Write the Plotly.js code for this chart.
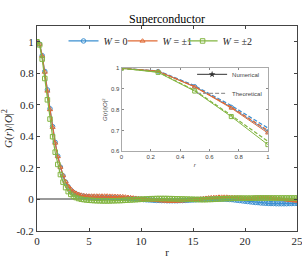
<!DOCTYPE html>
<html>
<head>
<meta charset="utf-8">
<script src="https://cdn.plot.ly/plotly-3.0.1.min.js"></script>
<style>html,body{margin:0;padding:0;background:#fff;}#chart{width:302px;height:267px;}</style>
</head>
<body>
<div id="chart"></div>
<script>
// r positions (step 0.25)
var r = [0,0.25,0.5,0.75,1,1.25,1.5,1.75,2,2.25,2.5,2.75,3,3.25,3.5,3.75,4,4.25,4.5,4.75,5,
5.25,5.5,5.75,6,6.25,6.5,6.75,7,7.25,7.5,7.75,8,
8.25,8.5,8.75,9,9.25,9.5,9.75,10,
10.25,10.5,10.75,11,11.25,11.5,11.75,12,12.25,12.5,12.75,13,13.25,13.5,13.75,14,14.25,14.5,14.75,15,
15.25,15.5,15.75,16,16.25,16.5,16.75,17,17.25,17.5,17.75,18,18.25,18.5,18.75,19,19.25,19.5,19.75,20,
20.25,20.5,20.75,21,21.25,21.5,21.75,22,22.25,22.5,22.75,23,23.25,23.5,23.75,24,24.25,24.5,24.75,25];

var gW0 = [1.000,0.985,0.912,0.812,0.695,0.575,0.462,0.362,0.275,0.205,0.150,0.110,0.080,0.060,0.045,0.035,0.028,0.023,0.020,0.018,0.016,
0.015,0.015,0.014,0.014,0.013,0.013,0.012,0.012,0.011,0.010,0.010,0.009,
0.008,0.007,0.006,0.005,0.004,0.003,0.002,0.001,
-0.001,-0.002,-0.003,-0.004,-0.005,-0.006,-0.006,-0.007,-0.007,-0.008,-0.008,-0.008,-0.008,-0.008,-0.007,-0.007,-0.006,-0.005,-0.004,-0.003,
-0.002,-0.001,0.000,0.001,0.002,0.002,0.003,0.003,0.003,0.003,0.002,0.002,0.001,0.000,-0.001,-0.003,-0.005,-0.007,-0.009,-0.011,
-0.013,-0.015,-0.017,-0.019,-0.020,-0.022,-0.023,-0.024,-0.025,-0.026,-0.026,-0.027,-0.027,-0.027,-0.027,-0.027,-0.026,-0.026,-0.025,-0.025];

var gW1 = [1.000,0.985,0.910,0.808,0.688,0.570,0.458,0.358,0.272,0.205,0.152,0.113,0.085,0.065,0.050,0.040,0.033,0.028,0.025,0.023,0.022,
0.022,0.022,0.022,0.022,0.022,0.022,0.022,0.021,0.021,0.020,0.020,0.019,
0.018,0.016,0.014,0.012,0.010,0.008,0.006,0.004,
0.002,0.000,-0.002,-0.004,-0.005,-0.006,-0.007,-0.008,-0.009,-0.010,-0.011,-0.011,-0.011,-0.010,-0.009,-0.008,-0.007,-0.005,-0.004,-0.002,
0.000,0.002,0.004,0.006,0.008,0.010,0.012,0.013,0.014,0.015,0.015,0.015,0.015,0.014,0.013,0.012,0.011,0.010,0.009,0.008,
0.008,0.008,0.009,0.010,0.011,0.012,0.012,0.012,0.011,0.010,0.008,0.006,0.004,0.002,0.000,-0.002,-0.004,-0.006,-0.008,-0.010];

var gW2 = [1.000,0.980,0.890,0.767,0.632,0.510,0.398,0.300,0.222,0.158,0.110,0.075,0.050,0.032,0.020,0.012,0.006,0.002,-0.001,-0.003,-0.005,
-0.006,-0.007,-0.008,-0.008,-0.009,-0.009,-0.009,-0.009,-0.008,-0.008,-0.007,-0.007,
-0.006,-0.005,-0.004,-0.003,-0.002,-0.001,0.000,0.001,
0.002,0.003,0.004,0.005,0.005,0.006,0.006,0.006,0.006,0.006,0.005,0.005,0.004,0.004,0.003,0.003,0.002,0.002,0.001,0.001,
0.000,0.000,-0.001,-0.001,-0.001,0.000,0.000,0.001,0.002,0.003,0.004,0.005,0.006,0.006,0.007,0.007,0.008,0.008,0.008,0.008,
0.008,0.008,0.008,0.009,0.009,0.009,0.009,0.009,0.009,0.009,0.009,0.009,0.009,0.009,0.009,0.009,0.009,0.009,0.009,0.009];

// inset (0 <= r <= 1)
var rIn = [0,0.25,0.5,0.75,1];
var numW0 = [1.000,0.985,0.912,0.812,0.695];
var numW1 = [1.000,0.985,0.910,0.808,0.688];
var numW2 = [1.000,0.980,0.890,0.767,0.632];
var theoW0 = [1.000,0.987,0.916,0.820,0.712];
var theoW1 = [1.000,0.986,0.912,0.813,0.700];
var theoW2 = [1.000,0.982,0.893,0.773,0.648];

var seriesNames = ['<i>W</i> = 0','<i>W</i> = \u00b11','<i>W</i> = \u00b12'];
var colors = ['#3b8fd0','#e06a35','#82b540'];
var symbols = ['circle-open','triangle-up-open','square-open'];
var legendIds = ['legend','legend3','legend4'];

var mainY = [gW0,gW1,gW2];
var numY = [numW0,numW1,numW2];
var theoY = [theoW0,theoW1,theoW2];

var traces = [];
for (var i=0;i<3;i++){
  traces.push({x:r,y:mainY[i],type:'scatter',mode:'lines+markers',name:seriesNames[i],
    line:{color:colors[i],width:1.2},marker:{symbol:symbols[i],size:4.5,color:colors[i],line:{width:1,color:colors[i]}},
    xaxis:'x',yaxis:'y',legend:legendIds[i]});
}
for (var i=0;i<3;i++){
  traces.push({x:rIn,y:numY[i],type:'scatter',mode:'lines+markers',showlegend:false,
    line:{color:colors[i],width:1},marker:{symbol:symbols[i],size:4,color:colors[i],line:{width:1,color:colors[i]}},
    xaxis:'x2',yaxis:'y2'});
  traces.push({x:rIn,y:theoY[i],type:'scatter',mode:'lines',showlegend:false,
    line:{color:colors[i],width:1.2,dash:'4px,2px'},xaxis:'x2',yaxis:'y2'});
}
traces.push({x:[null],y:[null],type:'scatter',mode:'lines+markers',name:'Numerical',
  line:{color:'#333',width:1},marker:{symbol:'star',size:5,color:'#333'},xaxis:'x2',yaxis:'y2',legend:'legend2'});
traces.push({x:[null],y:[null],type:'scatter',mode:'lines',name:'Theoretical',
  line:{color:'#999',width:1.2,dash:'4px,2px'},xaxis:'x2',yaxis:'y2',legend:'legend2'});

var serif = 'Liberation Serif, Times New Roman, serif';
var sans = 'Liberation Sans, Arial, sans-serif';

function mainLegend(x){
  return {orientation:'h',x:x,xanchor:'left',y:0.927,yanchor:'middle',bgcolor:'rgba(255,255,255,0)',
    font:{family:serif,size:10,color:'#262626'},itemwidth:30,tracegroupgap:0};
}

var layout = {
  width:302,height:267,
  margin:{l:37,r:5,t:26,b:36},
  paper_bgcolor:'#fff',plot_bgcolor:'#fff',
  showlegend:true,
  title:{text:'Superconductor',font:{family:serif,size:12,color:'#000'},x:0.5,xref:'paper',y:0.93,yref:'container',yanchor:'middle'},
  font:{family:serif,color:'#262626'},
  xaxis:{range:[0,25],tickvals:[0,5,10,15,20,25],ticktext:['0','5','10','15','20','25'],ticklabeloverflow:'allow',
    ticks:'inside',ticklen:3,tickcolor:'#444',showline:true,linecolor:'#444',linewidth:1,mirror:'ticks',
    showgrid:false,zeroline:false,tickfont:{family:serif,size:11,color:'#262626'},
    title:{text:'r',font:{family:serif,size:11,color:'#262626'},standoff:2}},
  yaxis:{range:[-0.2,1.1],tickvals:[-0.2,0,0.2,0.4,0.6,0.8,1],ticktext:['-0.2','0','0.2','0.4','0.6','0.8','1'],
    ticks:'inside',ticklen:3,tickcolor:'#444',showline:true,linecolor:'#444',linewidth:1,mirror:'ticks',
    showgrid:false,zeroline:true,zerolinecolor:'#9a9a9a',zerolinewidth:2,tickfont:{family:serif,size:11,color:'#262626'},
    title:{text:'<i>G</i>(<i>r</i>)/|<i>O</i>|<sup>2</sup>',font:{family:serif,size:11,color:'#262626'},standoff:4}},
  xaxis2:{domain:[0.325,0.888],anchor:'y2',range:[0,1],tickvals:[0,0.2,0.4,0.6,0.8,1],ticktext:['0','0.2','0.4','0.6','0.8','1'],
    ticks:'inside',ticklen:2,tickcolor:'#888',showline:true,linecolor:'#aaa',linewidth:1,mirror:'ticks',
    showgrid:false,zeroline:false,tickfont:{family:sans,size:6,color:'#444'},
    title:{text:'<i>r</i>',font:{family:sans,size:6,color:'#444'},standoff:3}},
  yaxis2:{domain:[0.389,0.794],anchor:'x2',range:[0.6,1],tickvals:[0.6,0.7,0.8,0.9,1],ticktext:['0.6','0.7','0.8','0.9','1'],
    ticks:'inside',ticklen:2,tickcolor:'#888',showline:true,linecolor:'#aaa',linewidth:1,mirror:'ticks',
    showgrid:false,zeroline:false,tickfont:{family:sans,size:6,color:'#444'},
    title:{text:'<i>G</i>(<i>r</i>)/|<i>O</i>|<sup>2</sup>',font:{family:sans,size:6,color:'#444'},standoff:2}},
  legend:mainLegend(0.102),
  legend3:mainLegend(0.329),
  legend4:mainLegend(0.56),
  legend2:{orientation:'v',x:0.885,xanchor:'right',y:0.835,yanchor:'top',bgcolor:'rgba(255,255,255,0)',
    font:{family:sans,size:6,color:'#444'},itemwidth:30,tracegroupgap:0}
};

Plotly.newPlot('chart',traces,layout,{displayModeBar:false,staticPlot:true});
</script>
</body>
</html>
